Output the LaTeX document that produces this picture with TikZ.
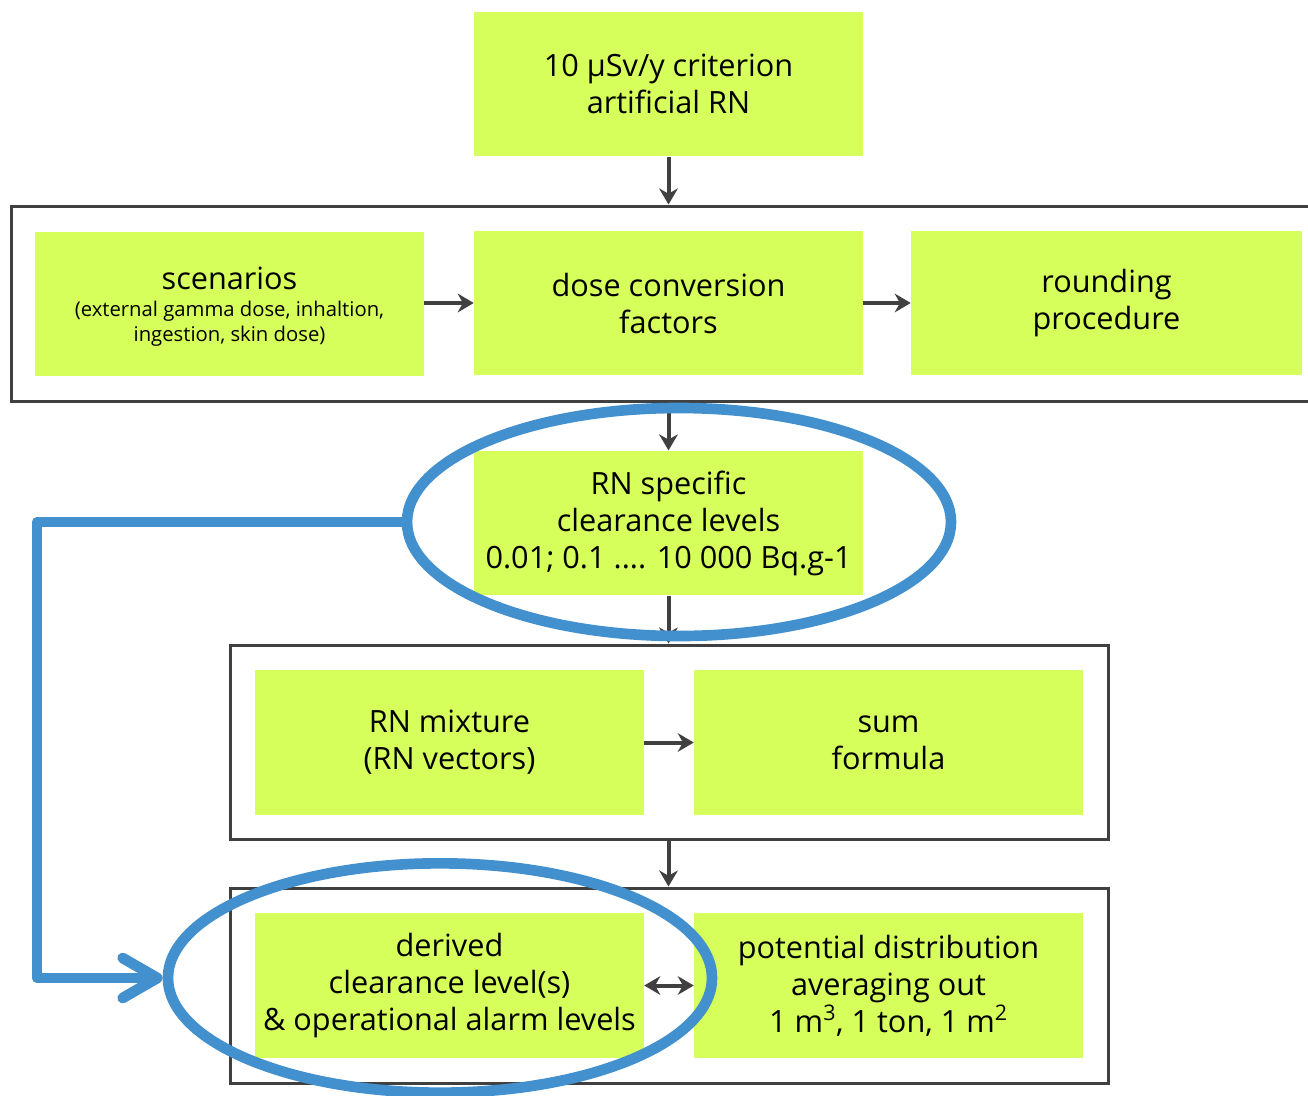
\documentclass[tikz,border=0pt]{standalone}
\usepackage{fontspec}
\setmainfont{Open Sans}
\usetikzlibrary{arrows.meta,shapes.geometric}
\definecolor{boxgreen}{HTML}{D7FF5B}
\definecolor{framegray}{HTML}{404040}
\definecolor{ellblue}{HTML}{4390CE}
\newcommand{\smallsz}{\fontsize{15.2}{19}\selectfont}
\begin{document}
\begin{tikzpicture}[x=0.75pt,y=-0.75pt,
  gbox/.style={fill=boxgreen, draw=none, minimum width=291.75pt, minimum height=108.5pt,
    align=center, inner sep=0pt, font=\fontsize{23}{27.75}\selectfont},
  frame/.style={draw=framegray, line width=2.25pt, inner sep=0pt},
  arr/.style={draw=framegray, line width=3pt, -{Stealth[length=12pt,width=14pt]}},
  darr/.style={draw=framegray, line width=3pt, {Stealth[length=12pt,width=14pt]}-{Stealth[length=12pt,width=14pt]}},
  ring/.style={ellipse, draw=ellblue, line width=8pt, inner sep=0pt},
  blueconn/.style={draw=ellblue, line width=8pt, line join=round, line cap=round,
    -{Straight Barb[length=26pt,width=30pt,round]}}
]
\useasboundingbox (0,0) rectangle (1308,1095);
\fill[white] (0,0) rectangle (1308,1095);

% frames
\node[frame, minimum width=981.75pt, minimum height=146.25pt] (c1) at (665.5,303.5) {};
\node[frame, minimum width=658.5pt, minimum height=145.5pt] (c2) at (669,742) {};
\node[frame, minimum width=658.5pt, minimum height=146.25pt] (c3) at (669,985.5) {};

% green boxes
\node[gbox] (top) at (668.5,84) {10 µSv/y criterion\\artificial RN};
\node[gbox] (scen) at (229.5,304) {\rule{0pt}{23pt}scenarios\\[-7.75pt]\smallsz\begin{tabular}[t]{@{}c@{}}(external gamma dose, inhaltion,\\ ingestion, skin dose)\end{tabular}};
\node[gbox] (dcf) at (668.5,303) {dose conversion\\factors};
\node[gbox, minimum width=293.25pt] (round) at (1106.5,303) {rounding\\procedure};
\node[gbox] (rns) at (668.5,523) {RN specific\\clearance levels\\0.01; 0.1 .... 10 000 Bq.g-1};
\node[gbox] (mix) at (449.5,742.5) {RN mixture\\(RN vectors)};
\node[gbox] (sum) at (888.5,742.5) {sum\\formula};
\node[gbox] (der) at (449.5,985.5) {derived\\clearance level(s)\\\& operational alarm levels};
\node[gbox] (pot) at (888.5,985.5) {potential distribution\\averaging out\\1 m\textsuperscript{3}, 1 ton, 1 m\textsuperscript{2}};

% gray arrows
\draw[arr] (top.south) -- (top.south |- c1.north);
\draw[arr] (scen.east |- dcf.west) -- (dcf.west);
\draw[arr] (dcf.east) -- (round.west);
\draw[arr] (rns.north |- c1.south) -- (rns.north);
\draw[arr] (rns.south) -- (rns.south |- c2.north);
\draw[arr] (mix.east) -- (sum.west);
\draw[arr] (rns.south |- c2.south) -- (rns.south |- c3.north);
\draw[darr] (der.east) -- (pot.west);

% blue highlight
\node[ring, minimum width=408pt, minimum height=171pt] (e1) at (679,522) {};
\node[ring, minimum width=408pt, minimum height=172pt] (e2) at (440,978) {};
\coordinate (k1) at (37,522);
\coordinate (k2) at (37,978);
\draw[blueconn] (e1.west) -- (k1) -- (k2) -- (e2.west);
\end{tikzpicture}
\end{document}
